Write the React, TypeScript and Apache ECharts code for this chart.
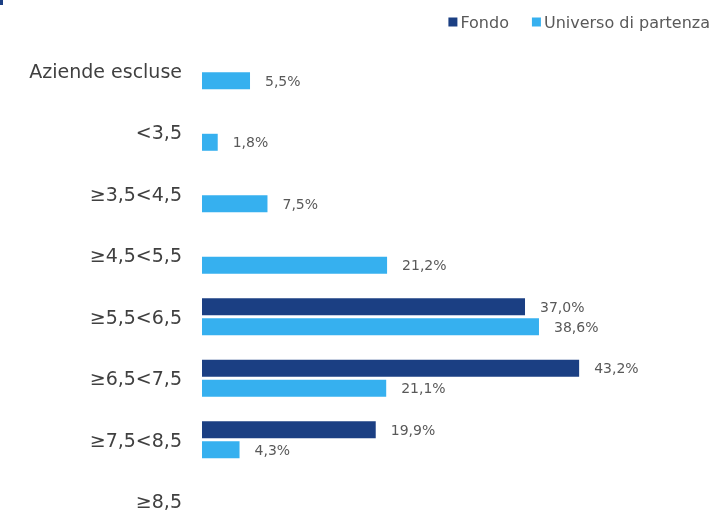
import React, { useEffect, useRef } from "react";
import * as echarts from "echarts";

const categories = [
  "Aziende escluse",
  "<3,5",
  "≥3,5<4,5",
  "≥4,5<5,5",
  "≥5,5<6,5",
  "≥6,5<7,5",
  "≥7,5<8,5",
  "≥8,5",
];
const fondo: (number | string)[] = ["-", "-", "-", "-", 37.0, 43.2, 19.9, "-"];
const universo: (number | string)[] = [5.5, 1.8, 7.5, 21.2, 38.6, 21.1, 4.3, "-"];

const FONT = "DejaVu Sans";
const fmt = (p: any) => (typeof p.value === "number" ? p.value.toFixed(1).replace(".", ",") + "%" : "");

export default function App() {
  const ref = useRef<HTMLDivElement>(null);
  useEffect(() => {
    const chart = echarts.init(ref.current!, null, { renderer: "svg" });
    chart.setOption({
      animation: false,
      textStyle: { fontFamily: FONT },
      legend: {
        top: 9,
        right: -3,
        itemWidth: 9,
        itemHeight: 9,
        itemGap: 23,
        icon: "rect",
        textStyle: { fontFamily: FONT, fontSize: 16, color: "#595959", padding: [0, 0, 0, -2] },
        data: ["Fondo", "Universo di partenza"],
      },
      graphic: [
        { type: "rect", left: 0, top: 0, shape: { width: 3, height: 5 }, style: { fill: "#1b3f83" } },
      ],
      grid: { left: 202, top: 40, width: 436.5, height: 492, containLabel: false },
      xAxis: {
        type: "value",
        min: 0,
        max: 50,
        show: false,
      },
      yAxis: {
        type: "category",
        inverse: true,
        data: categories,
        axisLine: { show: false },
        axisTick: { show: false },
        splitLine: { show: false },
        axisLabel: { fontFamily: FONT, fontSize: 19, color: "#404040", margin: 20 },
      },
      series: [
        {
          name: "Fondo",
          type: "bar",
          data: fondo,
          barWidth: 17,
          barGap: "18%",
          itemStyle: { color: "#1b3f83" },
          label: { show: true, position: "right", distance: 15, formatter: fmt, fontFamily: FONT, fontSize: 14, color: "#595959" },
        },
        {
          name: "Universo di partenza",
          type: "bar",
          data: universo,
          barWidth: 17,
          itemStyle: { color: "#36b0ef" },
          label: { show: true, position: "right", distance: 15, formatter: fmt, fontFamily: FONT, fontSize: 14, color: "#595959" },
        },
      ],
    });
    return () => chart.dispose();
  }, []);
  return <div ref={ref} style={{ position: "fixed", left: 0, top: 0, width: 712, height: 540 }} />;
}
